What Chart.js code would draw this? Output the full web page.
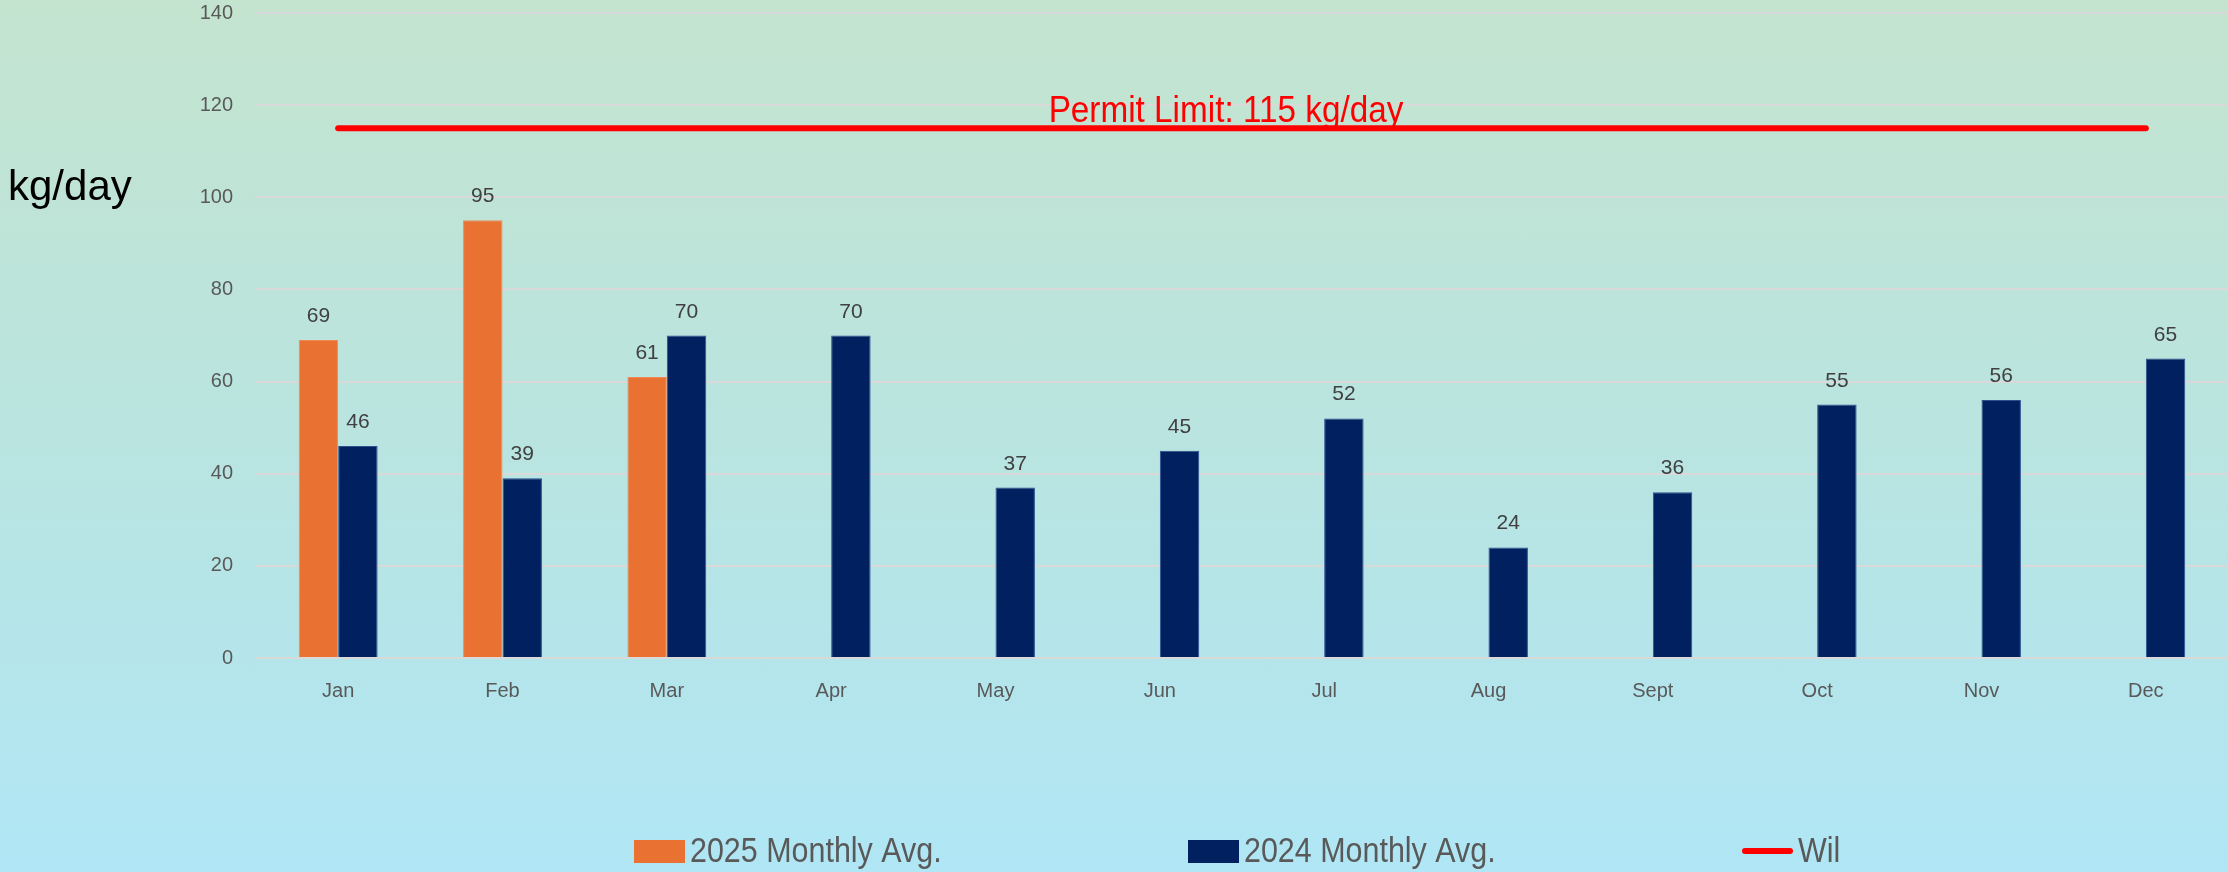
<!DOCTYPE html>
<html>
<head>
<meta charset="utf-8">
<title>Monthly Load</title>
<script src="https://cdn.jsdelivr.net/npm/chart.js@4.4.1/dist/chart.umd.min.js"></script>
<style>
    html, body { margin: 0; padding: 0; }
    body {
        width: 2228px;
        height: 872px;
        overflow: hidden;
        background: linear-gradient(to bottom, #c4e4cf 0%, #b9e4e0 50%, #b0e6f5 100%);
    }
    canvas { display: block; }
</style>
</head>
<body>
<canvas id="loadChart" width="2228" height="872"></canvas>
<script>
// Monthly averages, kg/day
const months = ['Jan', 'Feb', 'Mar', 'Apr', 'May', 'Jun', 'Jul', 'Aug', 'Sept', 'Oct', 'Nov', 'Dec'];
const avg2025 = [69, 95, 61, null, null, null, null, null, null, null, null, null];
const avg2024 = [46, 39, 70, 70, 37, 45, 52, 24, 36, 55, 56, 65];
const permitLimit = [115, 115, 115, 115, 115, 115, 115, 115, 115, 115, 115, 115];
const yTicks = [0, 20, 40, 60, 80, 100, 120, 140];

const plainFont = "'Liberation Sans', Arial, sans-serif";

// fillText squeezed horizontally, for the narrow captions
function narrowText(ctx, text, x, y, squeeze, align) {
    ctx.save();
    ctx.translate(x, y);
    ctx.scale(squeeze, 1);
    ctx.textAlign = align;
    ctx.fillText(text, 0, 0);
    ctx.restore();
}

// Numbers above each bar
const valueLabels = {
    id: 'valueLabels',
    afterDatasetsDraw(chart) {
        const ctx = chart.ctx;
        ctx.save();
        ctx.font = '21px ' + plainFont;
        ctx.fillStyle = '#404040';
        ctx.textAlign = 'center';
        ctx.textBaseline = 'alphabetic';
        chart.data.datasets.forEach((ds, i) => {
            if (ds.type === 'line') return;
            chart.getDatasetMeta(i).data.forEach((bar, j) => {
                if (ds.data[j] == null) return;
                ctx.fillText(ds.data[j], bar.x, bar.y - 18);
            });
        });
        ctx.restore();
    }
};

// Permit text over the limit line, plus the unit label on the left
const extraText = {
    id: 'extraText',
    afterDraw(chart) {
        const ctx = chart.ctx;
        const pts = chart.getDatasetMeta(2).data;
        ctx.save();
        ctx.font = '36px ' + plainFont;
        ctx.fillStyle = '#ff0000';
        narrowText(ctx, 'Permit Limit: ' + permitLimit[0] + ' kg/day',
            (pts[0].x + pts[pts.length - 1].x) / 2 - 16, pts[0].y - 6, 0.925, 'center');

        ctx.font = '42px ' + plainFont;
        ctx.fillStyle = '#000000';
        ctx.textAlign = 'left';
        ctx.fillText('kg/day', 8, chart.scales.y.getPixelForValue(100) + 3);
        ctx.restore();
    }
};

// Legend spread evenly along the bottom
const spreadLegend = {
    id: 'spreadLegend',
    afterDraw(chart) {
        const ctx = chart.ctx;
        const startX = 634;
        const step = 554;
        const cy = 851;
        ctx.save();
        ctx.font = '35px ' + plainFont;
        ctx.textBaseline = 'alphabetic';
        chart.data.datasets.forEach((ds, i) => {
            const x = startX + i * step;
            if (ds.type === 'line') {
                ctx.strokeStyle = ds.borderColor;
                ctx.lineWidth = ds.borderWidth;
                ctx.lineCap = 'round';
                ctx.beginPath();
                ctx.moveTo(x + 3, cy);
                ctx.lineTo(x + 48, cy);
                ctx.stroke();
            } else {
                ctx.fillStyle = ds.backgroundColor;
                ctx.fillRect(x, cy - 11, 51, 23);
            }
            ctx.fillStyle = '#595959';
            narrowText(ctx, ds.label, x + 56, cy + 11, 0.87, 'left');
        });
        ctx.restore();
    }
};

function createChart() {
    const ctx = document.getElementById('loadChart').getContext('2d');
    new Chart(ctx, {
        type: 'bar',
        data: {
            labels: months,
            datasets: [
                {
                    label: '2025 Monthly Avg.',
                    data: avg2025,
                    backgroundColor: '#e97132',
                    borderColor: '#f08a55',
                    borderWidth: 1,
                    categoryPercentage: 0.48,
                    barPercentage: 1.0,
                    order: 2
                },
                {
                    label: '2024 Monthly Avg.',
                    data: avg2024,
                    backgroundColor: '#002060',
                    borderColor: '#2c4f8f',
                    borderWidth: 1,
                    categoryPercentage: 0.48,
                    barPercentage: 1.0,
                    order: 2
                },
                {
                    type: 'line',
                    label: 'Wil',
                    data: permitLimit,
                    borderColor: '#ff0000',
                    backgroundColor: '#ff0000',
                    borderWidth: 6,
                    borderCapStyle: 'round',
                    pointRadius: 0,
                    order: 1
                }
            ]
        },
        options: {
            responsive: false,
            animation: false,
            layout: { padding: { top: 13, right: 0, bottom: 0, left: 0 } },
            plugins: {
                legend: { display: false },
                tooltip: { enabled: false }
            },
            scales: {
                x: {
                    grid: { display: false },
                    border: { display: false },
                    ticks: {
                        color: '#595959',
                        font: { family: plainFont, size: 20 },
                        padding: 13
                    },
                    afterFit(scale) { scale.height = 214; }
                },
                y: {
                    min: yTicks[0],
                    max: yTicks[yTicks.length - 1],
                    grid: { color: '#d9d9d9', lineWidth: 2, drawTicks: false },
                    border: { display: false },
                    ticks: {
                        stepSize: yTicks[1] - yTicks[0],
                        color: '#595959',
                        font: { family: plainFont, size: 20 },
                        padding: 23
                    },
                    afterFit(scale) {
                        scale.width = 256;
                        scale.paddingTop = 0;
                        scale.paddingBottom = 0;
                    }
                }
            }
        },
        plugins: [valueLabels, extraText, spreadLegend]
    });
}

document.addEventListener('DOMContentLoaded', createChart);
</script>
</body>
</html>
